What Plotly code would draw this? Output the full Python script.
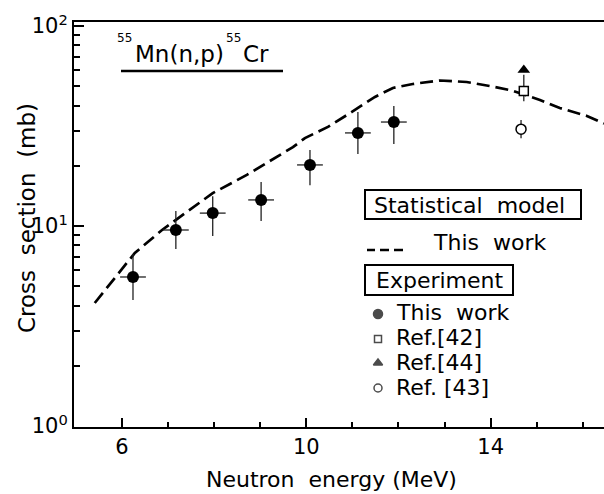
import plotly.graph_objects as go

# ---------------- data ----------------
# Statistical model calculation (this work), dashed curve
model_E = [5.41, 6.28, 6.87, 7.19, 7.97, 8.71, 9.71, 9.97, 10.47, 10.99, 11.49,
           11.88, 12.31, 12.9, 13.48, 13.98, 14.46, 15.07, 15.5, 16.09, 16.46]
model_sigma = [4.12, 7.33, 9.55, 10.8, 14.6, 18.0, 24.8, 27.5, 31.3, 37.2, 44.2,
               49.0, 51.3, 53.4, 52.5, 50.1, 47.6, 42.7, 38.9, 35.5, 32.5]

# Experiment, this work
exp_E = [6.24, 7.17, 7.97, 9.02, 10.08, 11.12, 11.90]
exp_sigma = [5.56, 9.55, 11.6, 13.5, 20.2, 29.2, 33.1]
exp_upper = [7.24, 11.9, 14.1, 16.6, 24.0, 37.2, 39.8]
exp_lower = [4.27, 7.67, 8.9, 10.6, 16.0, 22.9, 25.7]
exp_dE = [0.28, 0.28, 0.28, 0.28, 0.28, 0.28, 0.28]

# Ref.[42] (open square)
ref42_E = [14.72]
ref42_sigma = [47.3]
ref42_upper = [57.0]
ref42_lower = [42.0]

# Ref.[44] (filled triangle)
ref44_E = [14.72]
ref44_sigma = [60.3]

# Ref.[43] (open circle)
ref43_E = [14.66]
ref43_sigma = [30.5]
ref43_upper = [33.9]
ref43_lower = [27.5]

x_ticks = [6, 10, 14]
x_minor = [7, 8, 9, 11, 12, 13, 15, 16]
y_ticks = [1, 10, 100]
y_ticktext = ["10<sup>0</sup>", "10<sup>1</sup>", "10<sup>2</sup>"]
y_minor = [2, 3, 4, 5, 6, 7, 8, 9, 20, 30, 40, 50, 60, 70, 80, 90]

# ---------------- layout helpers ----------------
W, H = 604, 494
L, R, T, B = 74, 0, 22, 67
PW, PH = W - L - R, H - T - B
FONT = "DejaVu Sans"


def px(x):
    return (x - L) / PW


def py(y):
    return (T + PH - y) / PH


fig = go.Figure()

fig.add_trace(go.Scatter(
    x=model_E, y=model_sigma, mode="lines",
    line=dict(color="black", width=2.7, dash="13px,6px"),
    hoverinfo="skip", showlegend=False))

err_style = dict(color="#222", thickness=1.3, width=0)

fig.add_trace(go.Scatter(
    x=exp_E, y=exp_sigma, mode="markers",
    marker=dict(symbol="circle", size=12, color="black"),
    error_y=dict(type="data", symmetric=False,
                 array=[u - s for u, s in zip(exp_upper, exp_sigma)],
                 arrayminus=[s - l for s, l in zip(exp_sigma, exp_lower)], **err_style),
    error_x=dict(type="data", array=exp_dE, **err_style),
    showlegend=False))

fig.add_trace(go.Scatter(
    x=ref42_E, y=ref42_sigma, mode="markers",
    marker=dict(symbol="square", size=9, color="white", line=dict(color="black", width=1.5)),
    error_y=dict(type="data", symmetric=False,
                 array=[u - s for u, s in zip(ref42_upper, ref42_sigma)],
                 arrayminus=[s - l for s, l in zip(ref42_sigma, ref42_lower)], **err_style),
    showlegend=False))

fig.add_trace(go.Scatter(
    x=ref44_E, y=ref44_sigma, mode="markers",
    marker=dict(symbol="triangle-up", size=11, color="black"),
    showlegend=False))

fig.add_trace(go.Scatter(
    x=ref43_E, y=ref43_sigma, mode="markers",
    marker=dict(symbol="circle", size=10, color="white", line=dict(color="black", width=1.5)),
    error_y=dict(type="data", symmetric=False,
                 array=[u - s for u, s in zip(ref43_upper, ref43_sigma)],
                 arrayminus=[s - l for s, l in zip(ref43_sigma, ref43_lower)], **err_style),
    showlegend=False))

# legend markers on an overlay axis spanning the plot area (0..1)
leg_x = [px(378)] * 4
leg_y = [py(314), py(339), py(363), py(388)]
leg_sym = ["circle", "square", "triangle-up", "circle"]
leg_col = ["black", "white", "black", "white"]
leg_size = [9, 7, 8, 8]
fig.add_trace(go.Scatter(
    x=leg_x, y=leg_y, xaxis="x2", yaxis="y2", mode="markers",
    marker=dict(symbol=leg_sym, color=leg_col, size=leg_size,
                line=dict(color="black", width=1.5)),
    hoverinfo="skip", showlegend=False))

shapes = []
# title underline
shapes.append(dict(type="line", xref="paper", yref="paper",
                   x0=px(121), x1=px(283), y0=py(71), y1=py(71),
                   line=dict(color="black", width=2.5)))
# legend boxes
shapes.append(dict(type="rect", xref="paper", yref="paper",
                   x0=px(365), x1=px(581), y0=py(219), y1=py(190),
                   line=dict(color="black", width=2)))
shapes.append(dict(type="rect", xref="paper", yref="paper",
                   x0=px(365), x1=px(513), y0=py(295), y1=py(265),
                   line=dict(color="black", width=2)))
# little dashed legend line
for a, b in [(367, 375), (380, 389), (394, 403)]:
    shapes.append(dict(type="line", xref="paper", yref="paper",
                       x0=px(a), x1=px(b), y0=py(250), y1=py(250),
                       line=dict(color="black", width=2.5)))

nb = "\u00a0"
ann = []


def add_text(text, x, y, size=22, xanchor="left", angle=0):
    ann.append(dict(text=text, x=px(x), y=py(y), xref="paper", yref="paper",
                    xanchor=xanchor, yanchor="middle", showarrow=False, textangle=angle,
                    borderpad=0,
                    font=dict(family=FONT, size=size, color="black")))


# reaction label
add_text("55", 116, 38, size=12)
add_text("Mn(n,p)", 134, 54, size=23)
add_text("55", 225, 38, size=12)
add_text("Cr", 242, 54, size=23)
# legend texts
add_text("Statistical" + nb + " model", 470, 205, xanchor="center")
add_text("This" + nb + " work", 432, 243)
add_text("Experiment", 439, 280, xanchor="center")
add_text("This" + nb + " work", 395, 312)
add_text("Ref.[42]", 395, 337)
add_text("Ref.[44]", 395, 362)
add_text("Ref." + nb + "[43]", 395, 387)
# axis titles
add_text("Neutron" + nb + " energy" + nb + "(MeV)", 331, 479, xanchor="center")
add_text("Cross" + nb + " section" + nb + " (mb)", 27, 218, size=23, xanchor="center", angle=-90)

fig.update_layout(
    width=W, height=H,
    margin=dict(l=L, r=R, t=T, b=B),
    paper_bgcolor="white", plot_bgcolor="white",
    font=dict(family=FONT, color="black"),
    shapes=shapes, annotations=ann,
    xaxis=dict(range=[4.96, 16.46], tickvals=x_ticks, ticks="inside", ticklen=9,
               tickwidth=1.5, tickcolor="black",
               minor=dict(tickvals=x_minor, ticks="inside", ticklen=5, tickwidth=1.5,
                          tickcolor="black", showgrid=False),
               showline=True, linecolor="black", linewidth=2, mirror=True,
               showgrid=False, zeroline=False,
               tickfont=dict(family=FONT, size=21, color="black")),
    yaxis=dict(type="log", range=[-0.005, 2.02], tickvals=y_ticks, ticktext=y_ticktext,
               ticks="inside", ticklen=10, tickwidth=1.5, tickcolor="black",
               minor=dict(tickvals=y_minor, ticks="inside", ticklen=6, tickwidth=1.5,
                          tickcolor="black", showgrid=False),
               showline=True, linecolor="black", linewidth=2,
               showgrid=False, zeroline=False,
               tickfont=dict(family=FONT, size=21, color="black")),
    xaxis2=dict(overlaying="x", range=[0, 1], visible=False),
    yaxis2=dict(overlaying="y", range=[0, 1], visible=False),
)

fig.write_html("out.html")
